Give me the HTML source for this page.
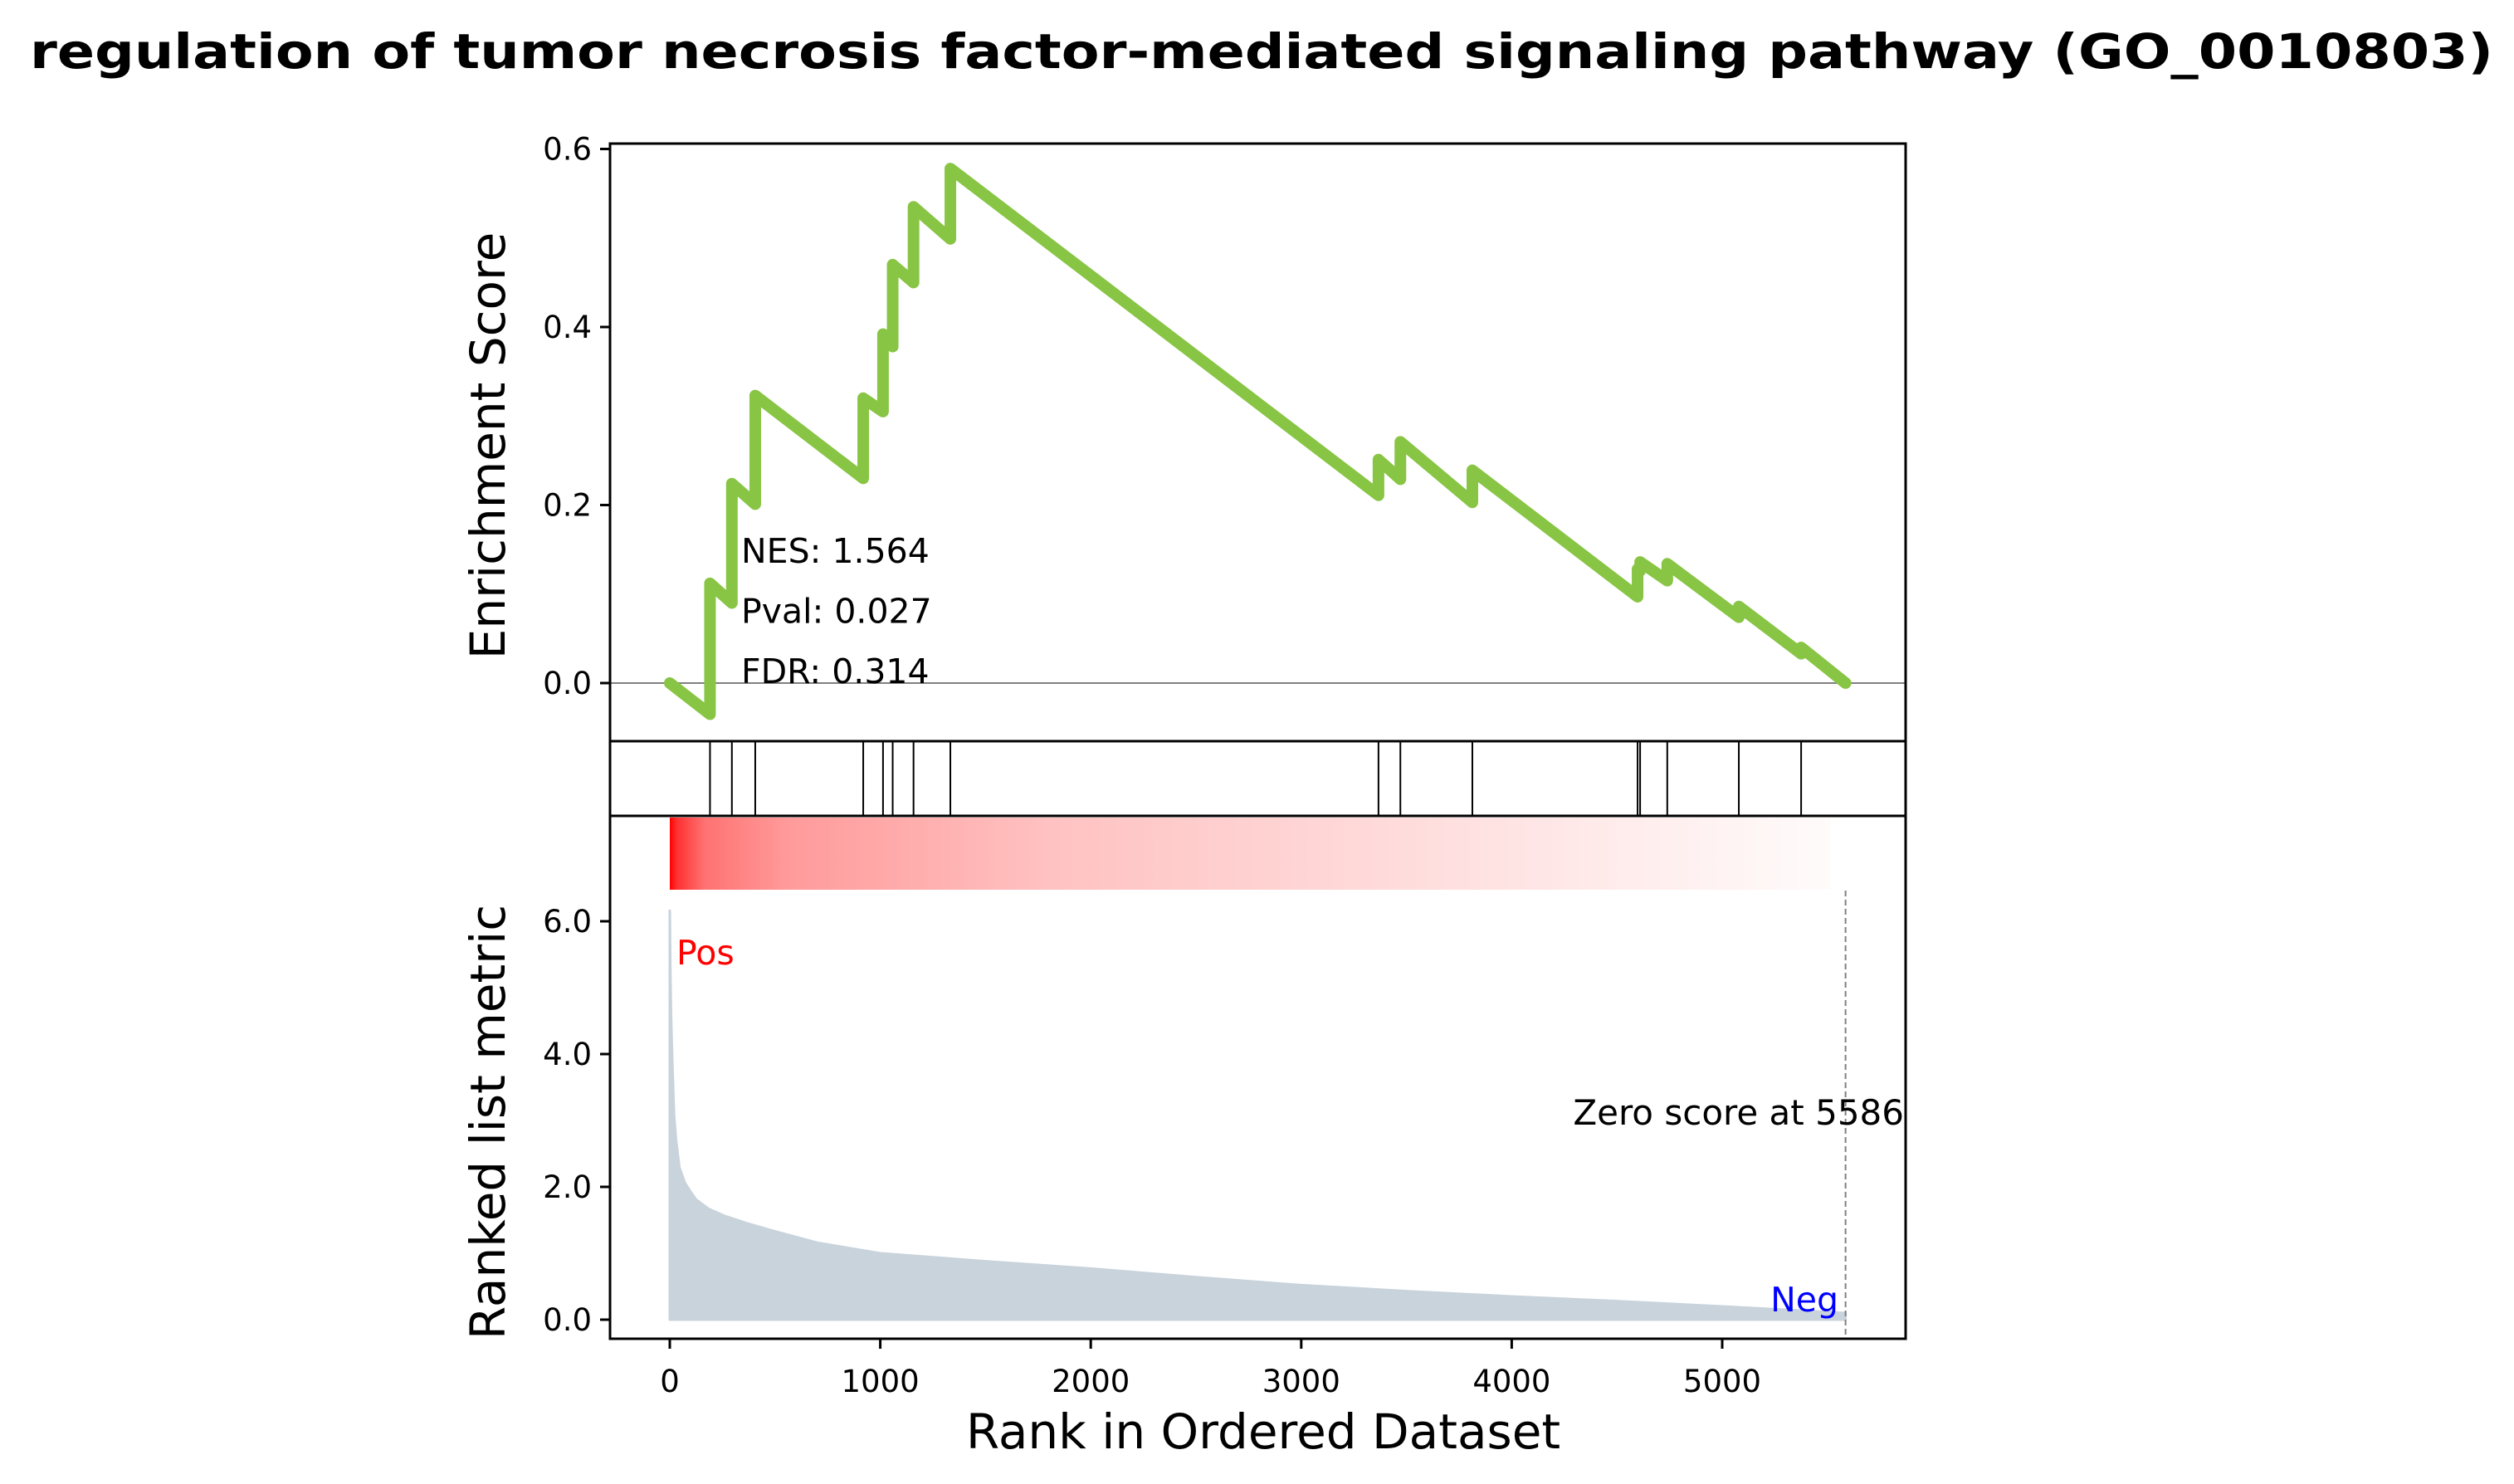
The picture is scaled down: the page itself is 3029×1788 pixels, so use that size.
<!DOCTYPE html>
<html><head><meta charset="utf-8"><style>
html,body{margin:0;padding:0;background:#fff;}
svg{display:block;font-family:"DejaVu Sans","Liberation Sans",sans-serif;}
</style></head><body>
<svg id="chart" width="3029" height="1788" viewBox="0 0 3029 1788" xmlns="http://www.w3.org/2000/svg">
<defs>
<linearGradient id="rankGrad" x1="0" x2="1" y1="0" y2="0">
<stop offset="0" stop-color="#ff0000"/>
<stop offset="0.006" stop-color="#ff3030"/>
<stop offset="0.03" stop-color="#ff7272"/>
<stop offset="0.1" stop-color="#ff9a9a"/>
<stop offset="0.33" stop-color="#ffc2c2"/>
<stop offset="0.6" stop-color="#ffd9d9"/>
<stop offset="0.8" stop-color="#ffeaea"/>
<stop offset="1" stop-color="#fffbfb"/>
</linearGradient>
</defs>
<text x="1520" y="82" font-size="58" font-weight="bold" text-anchor="middle" textLength="2968" lengthAdjust="spacingAndGlyphs">regulation of tumor necrosis factor-mediated signaling pathway (GO_0010803)</text>
<g id="es-panel"></g>
<g id="hit-panel"></g>
<g id="metric-panel"></g>
<text transform="translate(608,537) rotate(-90)" font-size="58" text-anchor="middle">Enrichment Score</text>
<text transform="translate(608,1352) rotate(-90)" font-size="58" text-anchor="middle">Ranked list metric</text>
<text x="1522" y="1745" font-size="58" text-anchor="middle">Rank in Ordered Dataset</text>
</svg>
<script>
const hitRanks = [191, 295, 406, 919, 1013, 1059, 1158, 1333, 3367, 3471, 3813, 4598, 4610, 4739, 5079, 5375];
const esBefore = [-0.035, 0.090, 0.201, 0.230, 0.305, 0.378, 0.450, 0.499, 0.211, 0.229, 0.203, 0.097, 0.126, 0.115, 0.074, 0.033];
const esAfter  = [0.112, 0.224, 0.323, 0.320, 0.392, 0.470, 0.535, 0.578, 0.251, 0.271, 0.239, 0.128, 0.136, 0.134, 0.086, 0.040];
const totalGenes = 5586;
const metricRanks  = [0, 3, 6, 10, 20, 30, 46, 72, 100, 125, 184, 263, 368, 500, 700, 1000, 1500, 2000, 2500, 3000, 3500, 4000, 4500, 5000, 5300, 5586];
const metricValues = [6.16, 5.2, 4.6, 4.1, 3.1, 2.7, 2.29, 2.06, 1.92, 1.81, 1.67, 1.56, 1.45, 1.33, 1.16, 1.0, 0.88, 0.77, 0.64, 0.52, 0.43, 0.35, 0.28, 0.2, 0.15, 0.1];
const xTicks = [0, 1000, 2000, 3000, 4000, 5000];
const esTicks = [0.0, 0.2, 0.4, 0.6];
const esTickLabels = ["0.0", "0.2", "0.4", "0.6"];
const metricTicks = [0, 2, 4, 6];
const metricTickLabels = ["0.0", "2.0", "4.0", "6.0"];
const statLabels = ["NES: 1.564", "Pval: 0.027", "FDR: 0.314"];

const NS = "http://www.w3.org/2000/svg";
const L = 735, R = 2296;
const X = v => 807 + v * 0.2536;
const Yes = v => 823 - v * 1072.5;
const Ym = v => 1590 - v * 80;
function mk(tag, attrs, parent) {
  const e = document.createElementNS(NS, tag);
  for (const k in attrs) e.setAttribute(k, attrs[k]);
  parent.appendChild(e);
  return e;
}
const es = document.getElementById('es-panel');
const hp = document.getElementById('hit-panel');
const mp = document.getElementById('metric-panel');

const zl = mk('line', {x1: L, x2: R, y1: Yes(0), y2: Yes(0), stroke: '#808080', 'stroke-width': 2}, es);


let pts = [[X(0), Yes(0)]];
for (let i = 0; i < hitRanks.length; i++) {
  pts.push([X(hitRanks[i]), Yes(esBefore[i])]);
  pts.push([X(hitRanks[i]), Yes(esAfter[i])]);
}
pts.push([X(totalGenes), Yes(0)]);
const esLine = mk('polyline', {points: pts.map(p => p.join(',')).join(' '), fill: 'none', stroke: '#88C544', 'stroke-width': 14, 'stroke-linejoin': 'round', 'stroke-linecap': 'round'}, es);


statLabels.forEach((s, i) => {
  const t = mk('text', {x: 893, y: 678 + i * 72.5, 'font-size': 41}, es);
  t.textContent = s;
  
  
});
esTicks.forEach((v, i) => {
  const tk = mk('line', {x1: L - 12, x2: L, y1: Yes(v), y2: Yes(v), stroke: '#000', 'stroke-width': 3}, es);
  
  
  const t = mk('text', {x: L - 22, y: Yes(v) + 13, 'font-size': 37, 'text-anchor': 'end'}, es);
  t.textContent = esTickLabels[i];
  
  
});
const esFrame = mk('rect', {x: L, y: 173, width: R - L, height: 893 - 173, fill: 'none', stroke: '#000', 'stroke-width': 3}, es);



hitRanks.forEach(r => {
  const h = mk('line', {x1: X(r), x2: X(r), y1: 893, y2: 983, stroke: '#000', 'stroke-width': 2}, hp);
  
  
});
const hFrame = mk('rect', {x: L, y: 893, width: R - L, height: 90, fill: 'none', stroke: '#000', 'stroke-width': 3}, hp);



const cb = mk('rect', {x: X(0), y: 985, width: X(totalGenes) - X(0) - 18, height: 87, fill: 'url(#rankGrad)'}, mp);


let d = 'M' + X(metricRanks[0]) + ',' + Ym(0);
metricRanks.forEach((r, i) => { d += ' L' + X(r) + ',' + Ym(metricValues[i]); });
d += ' L' + X(metricRanks[metricRanks.length - 1]) + ',' + Ym(0) + ' Z';
const area = mk('path', {d: d, fill: '#C9D3DC', stroke: '#C9D3DC', 'stroke-width': 3, 'stroke-linejoin': 'round'}, mp);


const zs = mk('line', {x1: X(totalGenes), x2: X(totalGenes), y1: 1073, y2: 1613, stroke: '#808080', 'stroke-width': 2, 'stroke-dasharray': '7,4'}, mp);


const zt = mk('text', {x: 2294, y: 1355, 'font-size': 42, 'text-anchor': 'end'}, mp);
zt.textContent = 'Zero score at ' + totalGenes;


const pos = mk('text', {x: 815, y: 1162, 'font-size': 41, fill: '#ff0000'}, mp);
pos.textContent = 'Pos';


const neg = mk('text', {x: 2215, y: 1580, 'font-size': 41, fill: '#0000ff', 'text-anchor': 'end'}, mp);
neg.textContent = 'Neg';


metricTicks.forEach((v, i) => {
  const tk = mk('line', {x1: L - 12, x2: L, y1: Ym(v), y2: Ym(v), stroke: '#000', 'stroke-width': 3}, mp);
  
  
  const t = mk('text', {x: L - 22, y: Ym(v) + 13, 'font-size': 37, 'text-anchor': 'end'}, mp);
  t.textContent = metricTickLabels[i];
  
  
});
xTicks.forEach(v => {
  const tk = mk('line', {x1: X(v), x2: X(v), y1: 1613, y2: 1625, stroke: '#000', 'stroke-width': 3}, mp);
  
  
  const t = mk('text', {x: X(v), y: 1677, 'font-size': 37, 'text-anchor': 'middle'}, mp);
  t.textContent = String(v);
  
  
});
const mFrame = mk('rect', {x: L, y: 983, width: R - L, height: 1613 - 983, fill: 'none', stroke: '#000', 'stroke-width': 3}, mp);


</script>
</body></html>
